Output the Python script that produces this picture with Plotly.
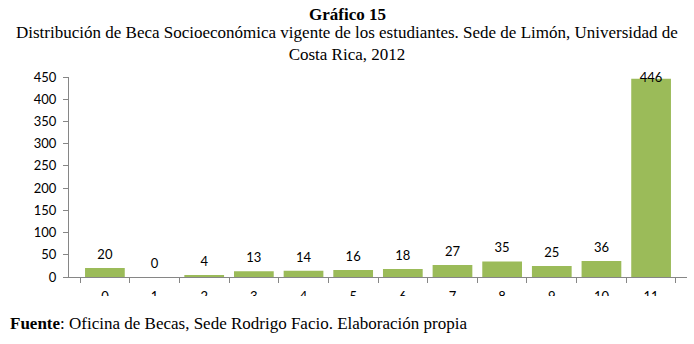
import plotly.graph_objects as go

categories = ["0", "1", "2", "3", "4", "5", "6", "7", "8", "9", "10", "11"]
values = [20, 0, 4, 13, 14, 16, 18, 27, 35, 25, 36, 446]
y_ticks = [0, 50, 100, 150, 200, 250, 300, 350, 400, 450]

title_main = "Gráfico 15"
title_sub = "Distribución de Beca Socioeconómica vigente de los estudiantes. Sede de Limón, Universidad de<br>Costa Rica, 2012"
source = "<b>Fuente</b>: Oficina de Becas, Sede Rodrigo Facio. Elaboración propia"

label_pos = ["top center" if v < 440 else "middle center" for v in values]

fig = go.Figure()
fig.add_trace(go.Bar(
    x=categories, y=values,
    marker=dict(color="#9BBB59", line=dict(width=0)),
    width=0.8,
    hoverinfo="skip",
))
fig.add_trace(go.Scatter(
    x=categories, y=values,
    mode="markers+text",
    marker=dict(size=8, opacity=0),
    text=[str(v) for v in values],
    textposition=label_pos,
    textfont=dict(family="Lato", size=13, color="#000000"),
    cliponaxis=False,
    hoverinfo="skip",
))

H = 200.0
def py(p):
    return (277 - p) / H
def px(p):
    return (p - 69) / 618.0

serif = dict(family="Liberation Serif", size=17, color="#000")

fig.update_layout(
    width=694, height=344,
    margin=dict(l=69, r=7, t=77, b=67),
    paper_bgcolor="white", plot_bgcolor="white",
    showlegend=False,
    xaxis=dict(
        type="category",
        showline=True, linecolor="#868686", linewidth=1,
        ticks="outside", tickson="boundaries", ticklen=5, tickcolor="#868686",
        tickfont=dict(family="Lato", size=13, color="#000000"),
        ticklabelstandoff=7,
        showgrid=False, zeroline=False,
    ),
    yaxis=dict(
        range=[0, 450],
        tickvals=y_ticks,
        showline=True, linecolor="#868686", linewidth=1,
        ticks="outside", ticklen=5, tickcolor="#868686",
        tickfont=dict(family="Lato", size=13, color="#000000"),
        ticklabelstandoff=4,
        showgrid=False, zeroline=False,
    ),
    annotations=[
        dict(text="<b>" + title_main + "</b>", x=px(347), y=py(14), xref="paper", yref="paper",
             xanchor="center", yanchor="middle", showarrow=False, font=serif),
        dict(text=title_sub, x=px(347), y=py(43), xref="paper", yref="paper",
             xanchor="center", yanchor="middle", showarrow=False, font=serif),
        dict(text=source, x=px(8), y=py(323), xref="paper", yref="paper",
             xanchor="left", yanchor="middle", showarrow=False, font=serif),
    ],
)

# white band hiding the lower part of the x tick labels (as cropped in original)
fig.add_shape(type="rect", xref="paper", yref="paper",
              x0=px(0), x1=px(694), y0=py(296), y1=py(312),
              fillcolor="white", line=dict(width=0), layer="above")

fig.write_html("out.html", config={"displayModeBar": False},
               post_script="document.body.style.margin='0';document.body.style.overflow='hidden';")
